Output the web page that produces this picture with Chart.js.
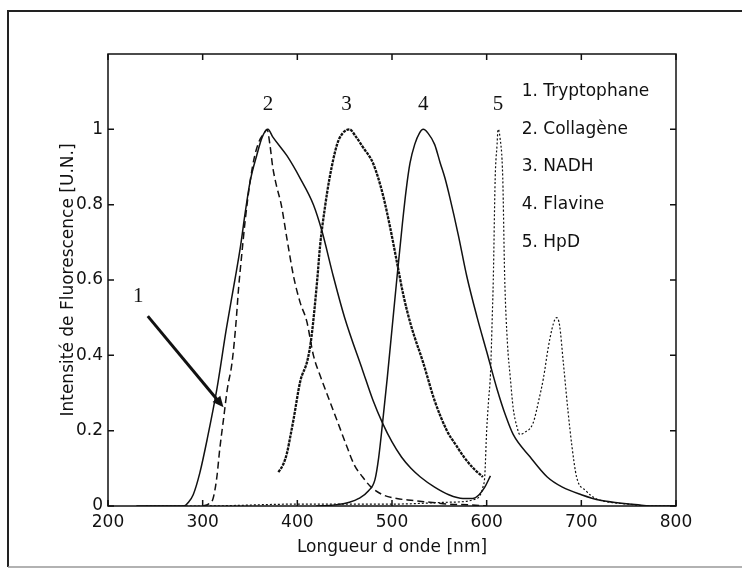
<!DOCTYPE html>
<html lang="fr">
<head>
<meta charset="UTF-8">
<title>Spectres de fluorescence</title>
<script src="https://cdn.jsdelivr.net/npm/chart.js"></script>
<style>
    html, body { margin: 0; padding: 0; background: #fff; overflow: hidden; }
    .wrap { position: relative; width: 742px; height: 572px; }
</style>
</head>
<body>
<div class="wrap"><canvas id="spectra"></canvas></div>
<script>
// wavelengths (nm) and normalised intensities
const trpNm  = [300, 306, 311, 315, 318, 322, 326, 331, 335, 338, 341, 345, 350, 355, 360, 365, 368, 371, 374, 378, 383, 389, 396, 403, 410, 417, 425, 434, 443, 452, 460, 469, 478, 490, 505, 520, 540, 560, 580, 600];
const trpVal = [0, 0.005, 0.02, 0.077, 0.15, 0.23, 0.31, 0.38, 0.48, 0.58, 0.66, 0.76, 0.86, 0.93, 0.97, 0.99, 1.0, 0.96, 0.90, 0.85, 0.80, 0.71, 0.61, 0.54, 0.49, 0.40, 0.34, 0.28, 0.22, 0.16, 0.11, 0.077, 0.05, 0.03, 0.02, 0.015, 0.01, 0.005, 0.003, 0];

const colNm  = [230, 260, 280, 285, 290, 297, 305, 315, 325, 334, 340, 345, 350, 357, 363, 369, 374, 389, 403, 417, 426, 438, 450, 469, 480, 490, 500, 510, 520, 530, 545, 560, 575, 585, 592, 598, 604];
const colVal = [0, 0, 0, 0.01, 0.03, 0.088, 0.18, 0.31, 0.47, 0.60, 0.69, 0.78, 0.86, 0.93, 0.98, 1.0, 0.98, 0.93, 0.87, 0.80, 0.73, 0.61, 0.50, 0.36, 0.28, 0.22, 0.17, 0.13, 0.10, 0.077, 0.05, 0.03, 0.02, 0.02, 0.03, 0.05, 0.08];

const nadhNm  = [380, 385, 389, 393, 396, 403, 411, 415, 421, 424, 429, 434, 442, 448, 455, 462, 470, 480, 490, 498, 505, 512, 520, 533, 545, 558, 568, 576, 586, 596];
const nadhVal = [0.09, 0.11, 0.14, 0.19, 0.23, 0.33, 0.39, 0.45, 0.60, 0.69, 0.79, 0.87, 0.96, 0.99, 1.0, 0.98, 0.95, 0.91, 0.83, 0.74, 0.65, 0.56, 0.48, 0.38, 0.28, 0.20, 0.16, 0.13, 0.10, 0.077];

const flaNm  = [420, 440, 455, 465, 475, 482, 486, 490, 495, 500, 505, 511, 515, 519, 524, 529, 533, 538, 545, 551, 556, 561, 570, 579, 590, 600, 611, 620, 628, 646, 664, 680, 700, 720, 740, 760, 780, 800];
const flaVal = [0, 0.003, 0.01, 0.02, 0.04, 0.07, 0.13, 0.22, 0.34, 0.47, 0.60, 0.75, 0.84, 0.91, 0.96, 0.99, 1.0, 0.99, 0.96, 0.91, 0.87, 0.82, 0.72, 0.61, 0.50, 0.41, 0.31, 0.24, 0.19, 0.13, 0.077, 0.05, 0.03, 0.015, 0.008, 0.003, 0, 0];

const hpdNm  = [240, 300, 400, 500, 560, 590, 596, 598, 600, 602, 604, 606, 607, 609, 611, 612, 614, 617, 619, 622, 625, 628, 632, 635, 640, 649, 655, 660, 665, 669, 672, 674, 677, 681, 686, 690, 695, 705, 715, 730, 750, 770, 800];
const hpdVal = [0, 0, 0.005, 0.005, 0.01, 0.02, 0.05, 0.08, 0.20, 0.28, 0.35, 0.51, 0.60, 0.87, 0.96, 1.0, 0.98, 0.87, 0.61, 0.43, 0.34, 0.26, 0.21, 0.19, 0.195, 0.22, 0.28, 0.34, 0.42, 0.47, 0.495, 0.50, 0.48, 0.38, 0.25, 0.16, 0.077, 0.04, 0.02, 0.01, 0.005, 0, 0];

const seriesNames = ['1. Tryptophane', '2. Collagène', '3. NADH', '4. Flavine', '5. HpD'];
const xTicks = [200, 300, 400, 500, 600, 700, 800];
const yTicks = [0, 0.2, 0.4, 0.6, 0.8, 1];

// annotation anchors, in data units
const peakNames = ['1', '2', '3', '4', '5'];
const peakNm  = [232, 369, 452, 533, 612];
const peakVal = [0.555, 1.065, 1.065, 1.065, 1.065];
const arrowFrom = [242, 0.504];
const arrowTo   = [322, 0.262];
const legendNm  = 637;
const legendVal = [1.1, 1.0, 0.9, 0.8, 0.7];

const FONT = '"DejaVu Sans", sans-serif';
const INK = '#111';

function pts(xs, ys) {
    return xs.map((v, i) => ({ x: v, y: ys[i] }));
}

const decor = {
    id: 'decor',
    afterDraw(chart) {
        const { ctx, chartArea: a, scales: { x, y } } = chart;
        ctx.save();

        // scanned page frame
        ctx.strokeStyle = '#222';
        ctx.lineWidth = 2;
        ctx.beginPath();
        ctx.moveTo(8, 10); ctx.lineTo(8, 567);
        ctx.moveTo(8, 11); ctx.lineTo(742, 11);
        ctx.stroke();
        ctx.strokeStyle = '#999';
        ctx.lineWidth = 1.5;
        ctx.beginPath();
        ctx.moveTo(8, 567); ctx.lineTo(742, 567);
        ctx.stroke();

        // axes box with inward ticks (matlab style)
        ctx.strokeStyle = INK;
        ctx.lineWidth = 1.5;
        ctx.strokeRect(a.left, a.top, a.right - a.left, a.bottom - a.top);
        const tl = 6;
        ctx.beginPath();
        xTicks.forEach(v => {
            const px = x.getPixelForValue(v);
            ctx.moveTo(px, a.bottom); ctx.lineTo(px, a.bottom - tl);
            ctx.moveTo(px, a.top); ctx.lineTo(px, a.top + tl);
        });
        yTicks.forEach(v => {
            const py = y.getPixelForValue(v);
            ctx.moveTo(a.left, py); ctx.lineTo(a.left + tl, py);
            ctx.moveTo(a.right, py); ctx.lineTo(a.right - tl, py);
        });
        ctx.stroke();

        // peak numbers
        ctx.fillStyle = INK;
        ctx.font = '21px "Liberation Serif", serif';
        ctx.textAlign = 'center';
        ctx.textBaseline = 'middle';
        peakNames.forEach((t, i) => {
            ctx.fillText(t, x.getPixelForValue(peakNm[i]), y.getPixelForValue(peakVal[i]));
        });

        // arrow towards curve 1
        const x0 = x.getPixelForValue(arrowFrom[0]), y0 = y.getPixelForValue(arrowFrom[1]);
        const x1 = x.getPixelForValue(arrowTo[0]), y1 = y.getPixelForValue(arrowTo[1]);
        const ang = Math.atan2(y1 - y0, x1 - x0);
        const head = 11;
        ctx.lineWidth = 3;
        ctx.beginPath();
        ctx.moveTo(x0, y0);
        ctx.lineTo(x1 - head * 0.8 * Math.cos(ang), y1 - head * 0.8 * Math.sin(ang));
        ctx.stroke();
        ctx.beginPath();
        ctx.moveTo(x1, y1);
        ctx.lineTo(x1 - head * Math.cos(ang) + 5 * Math.sin(ang), y1 - head * Math.sin(ang) - 5 * Math.cos(ang));
        ctx.lineTo(x1 - head * Math.cos(ang) - 5 * Math.sin(ang), y1 - head * Math.sin(ang) + 5 * Math.cos(ang));
        ctx.closePath();
        ctx.fill();

        // text legend
        ctx.font = '17px ' + FONT;
        ctx.textAlign = 'left';
        seriesNames.forEach((t, i) => {
            ctx.fillText(t, x.getPixelForValue(legendNm), y.getPixelForValue(legendVal[i]));
        });

        ctx.restore();
    }
};

const common = {
    borderColor: INK,
    pointRadius: 0,
    fill: false,
    cubicInterpolationMode: 'monotone'
};

new Chart(document.getElementById('spectra'), {
    type: 'line',
    data: {
        datasets: [
            { ...common, label: seriesNames[0], data: pts(trpNm, trpVal), borderWidth: 1.5, borderDash: [7, 4] },
            { ...common, label: seriesNames[1], data: pts(colNm, colVal), borderWidth: 1.5 },
            { ...common, label: seriesNames[2], data: pts(nadhNm, nadhVal), borderWidth: 2.3, borderDash: [3, 1] },
            { ...common, label: seriesNames[3], data: pts(flaNm, flaVal), borderWidth: 1.5 },
            { ...common, label: seriesNames[4], data: pts(hpdNm, hpdVal), borderWidth: 1.2, borderDash: [2, 2] }
        ]
    },
    options: {
        responsive: true,
        maintainAspectRatio: false,
        animation: false,
        layout: { padding: { left: 0, top: 54, right: 66, bottom: 0 } },
        plugins: { legend: { display: false }, tooltip: { enabled: false } },
        scales: {
            x: {
                type: 'linear',
                min: 200,
                max: 800,
                afterBuildTicks: s => { s.ticks = xTicks.map(v => ({ value: v })); },
                afterFit: s => { s.height = 66; },
                grid: { display: false, drawTicks: false },
                border: { display: false },
                ticks: { padding: 6, color: INK, autoSkip: false, maxRotation: 0, font: { family: FONT, size: 17 } },
                title: { display: true, text: 'Longueur d onde [nm]', color: INK, font: { family: FONT, size: 17 }, padding: { top: 0, bottom: 14 } }
            },
            y: {
                min: 0,
                max: 1.2,
                afterBuildTicks: s => { s.ticks = yTicks.map(v => ({ value: v })); },
                afterFit: s => { s.width = 108; },
                grid: { display: false, drawTicks: false },
                border: { display: false },
                ticks: { padding: 5, color: INK, font: { family: FONT, size: 17 }, callback: v => String(Math.round(v * 10) / 10) },
                title: { display: true, text: 'Intensité de Fluorescence [U.N.]', color: INK, font: { family: FONT, size: 17 }, padding: { top: 58, bottom: 0 } }
            }
        }
    },
    plugins: [decor]
});
</script>
</body>
</html>
